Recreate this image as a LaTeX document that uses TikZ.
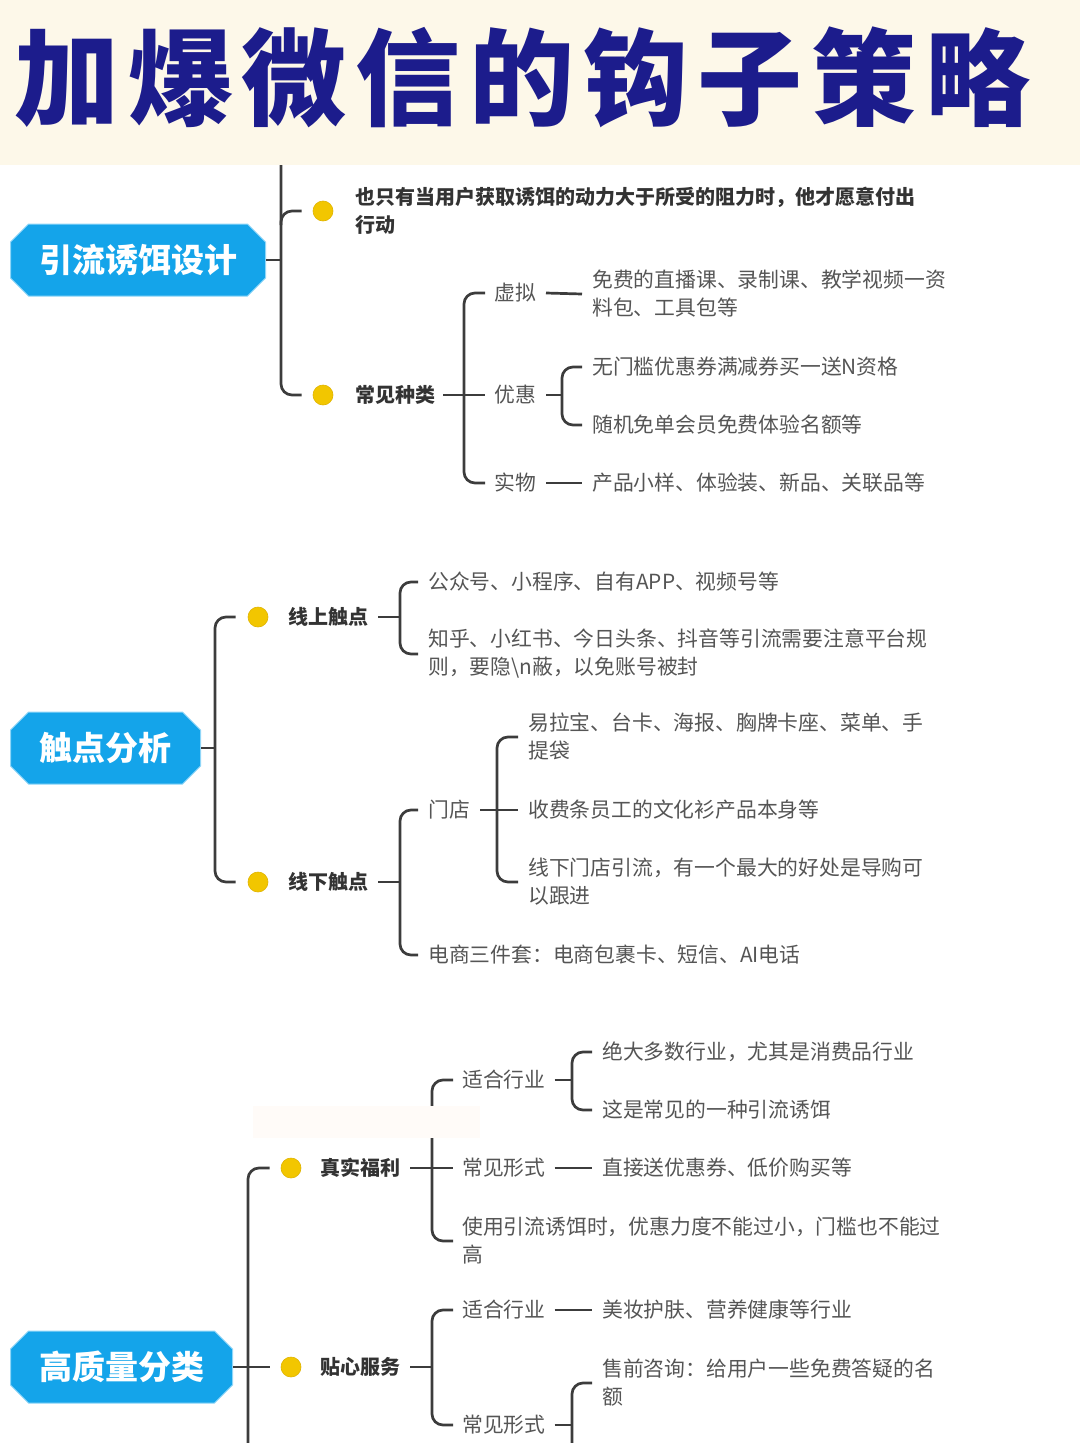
\documentclass[tikz,border=0pt]{standalone}
\usepackage{fontspec}
\setmainfont{Noto Sans CJK SC}
\usetikzlibrary{shapes.misc,calc}
\definecolor{cream}{HTML}{FDF8E9}
\definecolor{navy}{HTML}{1C1C8C}
\definecolor{boxblue}{HTML}{14A4EA}
\definecolor{boxedge}{HTML}{8FD6F8}
\definecolor{dotyel}{HTML}{F2C600}
\definecolor{dotedge}{HTML}{E0B400}
\definecolor{linegray}{HTML}{3C3C3C}
\definecolor{txtdark}{HTML}{333333}
\definecolor{txtgray}{HTML}{555555}
\definecolor{faint}{HTML}{FFFBF8}
\tikzset{
 conn/.style={draw=linegray, line width=2.7pt, rounded corners=11pt},
 topic/.style={chamfered rectangle, chamfered rectangle xsep=9pt, chamfered rectangle ysep=9pt,
   fill=boxblue, draw=boxedge, line width=1pt, text=white,
   font=\fontsize{33}{33}\selectfont\bfseries, inner sep=0pt, minimum height=72pt, anchor=west},
 dot/.style={circle, fill=dotyel, draw=dotedge, line width=0.6pt, minimum size=20pt, inner sep=0pt},
 lvl/.style={anchor=west, inner sep=0pt, text=txtdark, font=\fontsize{20}{28}\selectfont\bfseries, align=left},
 leaf/.style={anchor=west, inner sep=0pt, text=txtgray, font=\fontsize{20.8}{28}\selectfont, align=left},
 ttl/.style={anchor=west, inner sep=0pt, text=navy, font=\fontsize{105}{105}\selectfont\bfseries\addfontfeature{LetterSpace=8.5}},
}
\begin{document}
\begin{tikzpicture}[x=1pt,y=-1pt]
\useasboundingbox (0,0) rectangle (1080,1443);
\clip (0,0) rectangle (1080,1443);
\fill[white] (0,0) rectangle (1080,1443);
\fill[cream] (0,0) rectangle (1080,165);
\node[ttl] (title) at (14,77) {加爆微信的钩子策略};

% ---------- section 1
\coordinate (t1top) at (281,165);
\node[topic, minimum width=255pt] (box1) at (10,260) {引流诱饵设计};
\node[dot] (d11) at (323,211) {};
\node[dot] (d12) at (323,395) {};
\node[lvl] (n11) at (355,211) {也只有当用户获取诱饵的动力大于所受的阻力时，他才愿意付出\\行动};
\node[lvl] (n12) at (355,395) {常见种类};
\node[leaf] (v1) at (494,293) {虚拟};
\node[leaf] (v2) at (494,395) {优惠};
\node[leaf] (v3) at (494,483) {实物};
\node[leaf] (v1a) at (592,294) {免费的直播课、录制课、教学视频一资\\料包、工具包等};
\node[leaf] (v2a) at (592,367) {无门槛优惠券满减券买一送N资格};
\node[leaf] (v2b) at (592,425) {随机免单会员免费体验名额等};
\node[leaf] (v3a) at (592,483) {产品小样、体验装、新品、关联品等};
\coordinate (b12) at (464,395);
\coordinate (b2) at (562,395);

\draw[conn] (t1top) |- ([xshift=-11pt]d12.west);
\draw[conn] ($(t1top |- d11)+(0,14)$) |- ([xshift=-11pt]d11.west);
\draw[conn] (box1.east) -- (box1.east -| t1top);
\draw[conn] ([xshift=8pt]n12.east) -- ([xshift=-9pt]v2.west);
\draw[conn] ([xshift=-9pt]v1.west) -| (b12) |- ([xshift=-9pt]v3.west);
\draw[conn] ([xshift=10pt]v1.east) -- ([xshift=-10pt]v1a.west);
\draw[conn] ([xshift=10pt]v3.east) -- ([xshift=-10pt]v3a.west);
\draw[conn] ([xshift=10pt]v2.east) -- (b2);
\draw[conn] ([xshift=-10pt]v2a.west) -| (b2) |- ([xshift=-10pt]v2b.west);

% ---------- section 2
\node[topic, minimum width=190pt] (box2) at (10,748) {触点分析};
\coordinate (b20) at (215,748);
\node[dot] (d21) at (258,617) {};
\node[dot] (d22) at (258,882) {};
\node[lvl] (n21) at (288,617) {线上触点};
\node[lvl] (n22) at (288,882) {线下触点};
\draw[conn] (box2.east) -- (b20);
\draw[conn] ([xshift=-12pt]d21.west) -| (b20) |- ([xshift=-12pt]d22.west);

\coordinate (b21) at (400,617);
\node[leaf] (o1) at (428,582) {公众号、小程序、自有APP、视频号等};
\node[leaf] (o2) at (428,654) {知乎、小红书、今日头条、抖音等引流需要注意平台规\\则，要隐\textbackslash n蔽，以免账号被封};
\draw[conn] ([xshift=10pt]n21.east) -- (b21);
\draw[conn] ([xshift=-10pt]o1.west) -| (b21) |- ([xshift=-10pt]o2.west);

\coordinate (b22) at (400,882);
\node[leaf] (s1) at (428,810) {门店};
\node[leaf] (s2) at (428,955) {电商三件套：电商包裹卡、短信、AI电话};
\draw[conn] ([xshift=10pt]n22.east) -- (b22);
\draw[conn] ([xshift=-10pt]s1.west) -| (b22) |- ([xshift=-10pt]s2.west);

\coordinate (b23) at (497,810);
\node[leaf] (m1) at (528,737) {易拉宝、台卡、海报、胸牌卡座、菜单、手\\提袋};
\node[leaf] (m2) at (528,810) {收费条员工的文化衫产品本身等};
\node[leaf] (m3) at (528,882) {线下门店引流，有一个最大的好处是导购可\\以跟进};
\draw[conn] ([xshift=10pt]s1.east) -- ([xshift=-10pt]m2.west);
\draw[conn] ([xshift=-10pt]m1.west) -| (b23) |- ([xshift=-10pt]m3.west);

% ---------- section 3
\node[topic, minimum width=222pt] (box3) at (10,1367) {高质量分类};
\coordinate (b30bot) at (248,1460);
\node[dot] (d31) at (291,1168) {};
\node[dot] (d32) at (291,1367) {};
\node[lvl] (n31) at (320,1168) {真实福利};
\node[lvl] (n32) at (320,1367) {贴心服务};
\draw[conn] ([xshift=-11pt]d31.west) -| (b30bot);
\draw[conn] (box3.east) -- ([xshift=-11pt]d32.west);

\coordinate (b31) at (432,1168);
\node[leaf] (r1) at (462,1080) {适合行业};
\node[leaf] (r2) at (462,1168) {常见形式};
\node[leaf] (r3) at (462,1241) {使用引流诱饵时，优惠力度不能过小，门槛也不能过\\高};
\draw[conn] ([xshift=10pt]n31.east) -- ([xshift=-9pt]r2.west);
\draw[conn] ([xshift=-9pt]r1.west) -| (b31) |- ([xshift=-9pt]r3.west);
\fill[faint] (253,1106) rectangle (480,1138);

\coordinate (b32) at (572,1080);
\node[leaf] (r1a) at (602,1052) {绝大多数行业，尤其是消费品行业};
\node[leaf] (r1b) at (602,1110) {这是常见的一种引流诱饵};
\draw[conn] ([xshift=9pt]r1.east) -- (b32);
\draw[conn] ([xshift=-10pt]r1a.west) -| (b32) |- ([xshift=-10pt]r1b.west);
\node[leaf] (r2a) at (602,1168) {直接送优惠券、低价购买等};
\draw[conn] ([xshift=9pt]r2.east) -- ([xshift=-10pt]r2a.west);

\coordinate (b33) at (432,1367);
\node[leaf] (h1) at (462,1310) {适合行业};
\node[leaf] (h2) at (462,1425) {常见形式};
\draw[conn] ([xshift=10pt]n32.east) -- (b33);
\draw[conn] ([xshift=-9pt]h1.west) -| (b33) |- ([xshift=-9pt]h2.west);
\node[leaf] (h1a) at (602,1310) {美妆护肤、营养健康等行业};
\draw[conn] ([xshift=9pt]h1.east) -- ([xshift=-10pt]h1a.west);
\node[leaf] (h2a) at (602,1383) {售前咨询：给用户一些免费答疑的名\\额};
\coordinate (b34) at (572,1425);
\coordinate (b34bot) at (572,1460);
\draw[conn] ([xshift=9pt]h2.east) -- (b34);
\draw[conn] ([xshift=-10pt]h2a.west) -| (b34bot);
\end{tikzpicture}
\end{document}
